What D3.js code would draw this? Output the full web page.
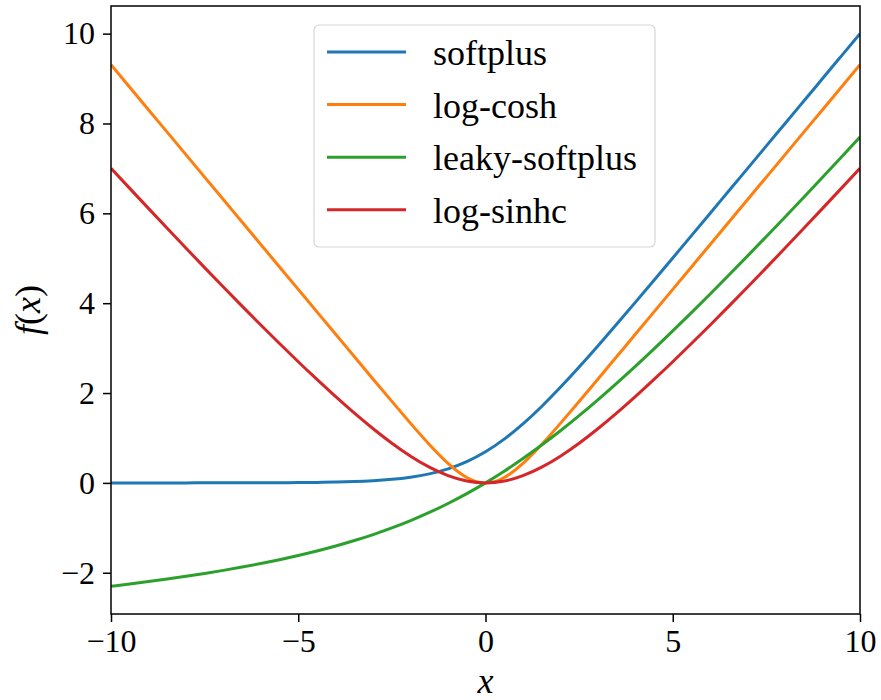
<!DOCTYPE html>
<html lang="en">
<head>
<meta charset="utf-8">
<script src="https://cdn.jsdelivr.net/npm/d3@7"></script>
<style>
  body { margin: 0; background: #fff; }
  text { font-family: "Liberation Serif", "DejaVu Serif", serif; }
</style>
</head>
<body>
<div id="chart"></div>
<script>
// x samples, step 0.5
var xs = [-10,-9.5,-9,-8.5,-8,-7.5,-7,-6.5,-6,-5.5,-5,-4.5,-4,-3.5,-3,-2.5,-2,-1.5,-1,-0.5,
          0,0.5,1,1.5,2,2.5,3,3.5,4,4.5,5,5.5,6,6.5,7,7.5,8,8.5,9,9.5,10];

var softplus = [0.000,0.000,0.000,0.000,0.000,0.001,0.001,0.002,0.002,0.004,0.007,0.011,0.018,0.030,0.049,0.079,0.127,0.201,0.313,0.474,
                0.693,0.974,1.313,1.701,2.127,2.579,3.049,3.530,4.018,4.511,5.007,5.504,6.002,6.502,7.001,7.501,8.000,8.500,9.000,9.500,10.000];

var logCosh = [9.307,8.807,8.307,7.807,7.307,6.807,6.307,5.807,5.307,4.807,4.307,3.807,3.307,2.808,2.309,1.814,1.325,0.855,0.434,0.120,
               0.000,0.120,0.434,0.855,1.325,1.814,2.309,2.808,3.307,3.807,4.307,4.807,5.307,5.807,6.307,6.807,7.307,7.807,8.307,8.807,9.307];

var leakySoftplus = [-2.303,-2.251,-2.197,-2.140,-2.080,-2.015,-1.947,-1.873,-1.794,-1.709,-1.616,-1.515,-1.405,-1.283,-1.150,-1.002,-0.839,-0.658,-0.459,-0.240,
                     0.000,0.260,0.541,0.842,1.161,1.498,1.850,2.217,2.595,2.985,3.384,3.791,4.206,4.627,5.053,5.485,5.920,6.360,6.803,7.249,7.697];

var logSinhc = [7.004,6.556,6.110,5.667,5.227,4.792,4.361,3.935,3.515,3.102,2.697,2.303,1.920,1.553,1.206,0.884,0.595,0.350,0.161,0.041,
                0.000,0.041,0.161,0.350,0.595,0.884,1.206,1.553,1.920,2.303,2.697,3.102,3.515,3.935,4.361,4.792,5.227,5.667,6.110,6.556,7.004];

var seriesNames = ["softplus", "log-cosh", "leaky-softplus", "log-sinhc"];
var seriesValues = [softplus, logCosh, leakySoftplus, logSinhc];
var colors = ["#1f77b4", "#ff7f0e", "#2ca02c", "#d62728"];

var xTicks = [-10, -5, 0, 5, 10];
var yTicks = [-2, 0, 2, 4, 6, 8, 10];

var W = 881, H = 700;
var margin = {top: 6, right: 21, bottom: 86, left: 111};
var width = W - margin.left - margin.right,
    height = H - margin.top - margin.bottom;

var svg = d3.select("#chart").append("svg")
    .attr("width", W)
    .attr("height", H);

var g = svg.append("g")
    .attr("transform", "translate(" + margin.left + "," + margin.top + ")");

// matplotlib style 5% margin on y
var yMin = d3.min(seriesValues, function(s) { return d3.min(s); });
var yMax = d3.max(seriesValues, function(s) { return d3.max(s); });
var pad = (yMax - yMin) * 0.05;

var x = d3.scaleLinear().domain([-10, 10]).range([0, width]);
var y = d3.scaleLinear().domain([yMin - pad, yMax + pad]).range([height, 0]);

g.append("clipPath").attr("id", "clip")
  .append("rect").attr("width", width).attr("height", height);

var line = d3.line()
    .x(function(d) { return x(d[0]); })
    .y(function(d) { return y(d[1]); })
    .curve(d3.curveNatural);

var plot = g.append("g").attr("clip-path", "url(#clip)");
seriesValues.forEach(function(vals, i) {
  plot.append("path")
    .datum(xs.map(function(v, j) { return [v, vals[j]]; }))
    .attr("fill", "none")
    .attr("stroke", colors[i])
    .attr("stroke-width", 3)
    .attr("d", line);
});

// axes
var xAxis = g.append("g")
    .attr("transform", "translate(0," + height + ")")
    .call(d3.axisBottom(x).tickValues(xTicks).tickSize(8).tickPadding(7));
var yAxis = g.append("g")
    .call(d3.axisLeft(y).tickValues(yTicks).tickSize(8).tickPadding(8));

[xAxis, yAxis].forEach(function(a) {
  a.select(".domain").remove();
  a.selectAll("line").attr("stroke", "#000").attr("stroke-width", 1.5);
  a.selectAll("text").attr("fill", "#000").style("font-size", "32px")
    .style("font-family", "'Liberation Serif', serif");
});

// frame
g.append("rect")
  .attr("width", width).attr("height", height)
  .attr("fill", "none").attr("stroke", "#000").attr("stroke-width", 1.5);

// axis labels
svg.append("text")
  .attr("x", margin.left + x(0))
  .attr("y", 693)
  .attr("text-anchor", "middle")
  .style("font-size", "36px")
  .style("font-style", "italic")
  .text("x");

svg.append("text")
  .attr("transform", "translate(40,310) rotate(-90)")
  .attr("text-anchor", "middle")
  .style("font-size", "36px")
  .html('<tspan font-style="italic">f</tspan>(<tspan font-style="italic">x</tspan>)');

// legend
var legend = svg.append("g").attr("transform", "translate(314,25)");
legend.append("rect")
  .attr("width", 341).attr("height", 222)
  .attr("rx", 5).attr("ry", 5)
  .attr("fill", "#fff").attr("fill-opacity", 0.8)
  .attr("stroke", "#d6d6d6").attr("stroke-width", 1.2);

seriesNames.forEach(function(name, i) {
  var row = legend.append("g").attr("transform", "translate(0," + (27 + i * 52.6) + ")");
  row.append("line")
    .attr("x1", 13).attr("x2", 92)
    .attr("stroke", colors[i]).attr("stroke-width", 3);
  row.append("text")
    .attr("x", 119).attr("y", 13)
    .style("font-size", "36px")
    .text(name);
});
</script>
</body>
</html>
